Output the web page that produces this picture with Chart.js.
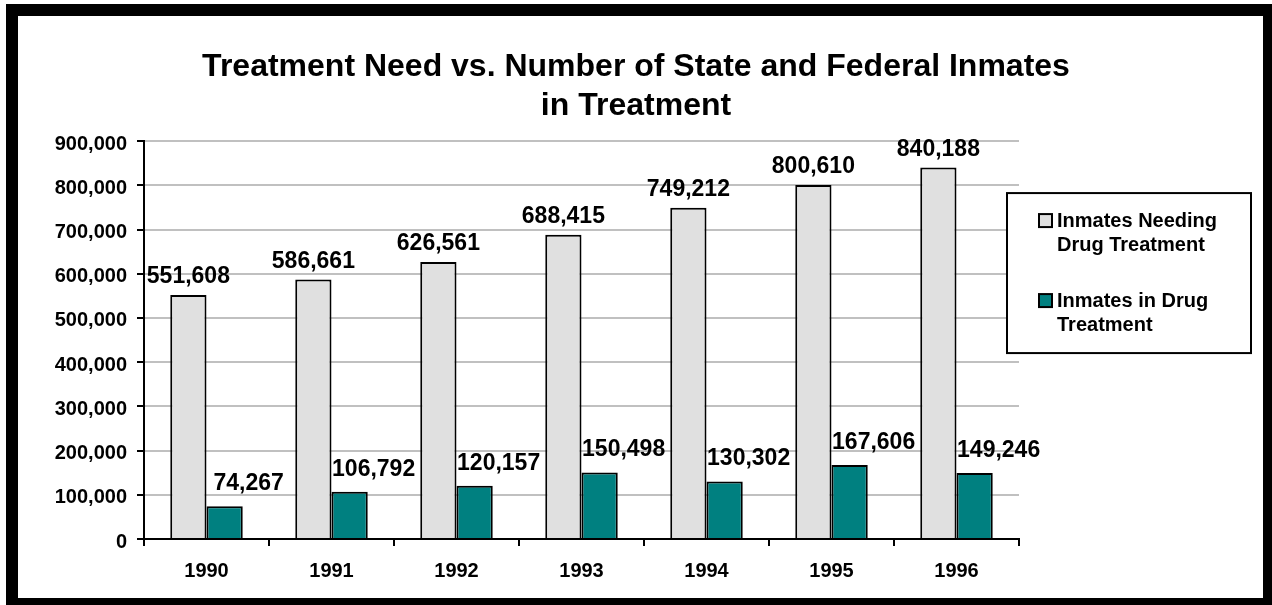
<!DOCTYPE html>
<html>
<head>
<meta charset="utf-8">
<script src="https://cdn.jsdelivr.net/npm/chart.js@4.4.1/dist/chart.umd.min.js"></script>
<style>
  html, body { margin: 0; padding: 0; background: #fff; width: 1272px; height: 605px; overflow: hidden; }
  #frame { position: absolute; left: 6px; top: 4px; width: 1269px; height: 606px; box-sizing: border-box; border: 12px solid #000; }
  #wrap { position: absolute; left: 0; top: 0; width: 1272px; height: 605px; }
</style>
</head>
<body>
<div id="frame"></div>
<div id="wrap"><canvas id="c" width="1272" height="605"></canvas></div>
<script>
// ---- data ----
const years = ['1990', '1991', '1992', '1993', '1994', '1995', '1996'];
const needingTreatment = [551608, 586661, 626561, 688415, 749212, 800610, 840188];
const inTreatment = [74267, 106792, 120157, 150498, 130302, 167606, 149246];
const seriesNames = ['Inmates Needing Drug Treatment', 'Inmates in Drug Treatment'];
const legendLines = [['Inmates Needing', 'Drug Treatment'], ['Inmates in Drug', 'Treatment']];
const titleLines = ['Treatment Need vs. Number of State and Federal Inmates', 'in Treatment'];
const yMin = 0, yMax = 900000, yStep = 100000;

const FONT = "'Liberation Sans', Arial, Helvetica, sans-serif";
const fmt = v => v.toLocaleString('en-US');

const labelOffsets = [{ dx: 0, gap: 12 }, { dx: 24, gap: 16 }];

const valueLabels = {
  id: 'valueLabels',
  afterDatasetsDraw(chart) {
    const ctx = chart.ctx;
    ctx.save();
    ctx.font = 'bold 23px ' + FONT;
    ctx.fillStyle = '#000';
    ctx.textAlign = 'center';
    ctx.textBaseline = 'alphabetic';
    chart.data.datasets.forEach((ds, i) => {
      const meta = chart.getDatasetMeta(i);
      const off = labelOffsets[i];
      meta.data.forEach((bar, j) => {
        ctx.fillText(fmt(ds.data[j]), bar.x + off.dx, bar.y - off.gap);
      });
    });
    ctx.restore();
  }
};

const boxLegend = {
  id: 'boxLegend',
  afterDraw(chart) {
    const ctx = chart.ctx;
    const ca = chart.chartArea;
    const left = ca.right - 12, top = ca.top + 52, w = 244, h = 160;
    ctx.save();
    ctx.fillStyle = '#fff';
    ctx.fillRect(left, top, w, h);
    ctx.lineWidth = 2;
    ctx.strokeStyle = '#000';
    ctx.strokeRect(left, top, w, h);
    ctx.font = 'bold 20px ' + FONT;
    ctx.textAlign = 'left';
    ctx.textBaseline = 'alphabetic';
    chart.data.datasets.forEach((ds, i) => {
      const baseY = top + 34 + i * 80;
      ctx.fillStyle = ds.backgroundColor;
      ctx.fillRect(left + 32, baseY - 13, 13, 13);
      ctx.lineWidth = 2;
      ctx.strokeStyle = '#000';
      ctx.strokeRect(left + 32, baseY - 13, 13, 13);
      ctx.fillStyle = '#000';
      legendLines[i].forEach((line, k) => {
        ctx.fillText(line, left + 50, baseY + k * 24);
      });
    });
    ctx.restore();
  }
};

new Chart(document.getElementById('c'), {
  type: 'bar',
  data: {
    labels: years,
    datasets: [
      { label: seriesNames[0], data: needingTreatment, backgroundColor: '#e0e0e0', borderColor: '#000', borderWidth: 2 },
      { label: seriesNames[1], data: inTreatment, backgroundColor: '#008080', borderColor: '#000', borderWidth: 2 }
    ]
  },
  options: {
    responsive: false,
    animation: false,
    layout: { padding: { left: 0, right: 0, top: 0, bottom: 0 } },
    datasets: { bar: { categoryPercentage: 0.58, barPercentage: 1.0 } },
    plugins: {
      legend: { display: false },
      tooltip: { enabled: false },
      title: {
        display: true,
        text: titleLines,
        color: '#000',
        font: { family: FONT, size: 32, weight: 'bold', lineHeight: 1.22 },
        padding: { top: 48, bottom: 15 }
      }
    },
    scales: {
      x: {
        offset: true,
        grid: { display: true, offset: true, drawOnChartArea: false, drawTicks: true, tickLength: 7, tickColor: '#000', tickWidth: 2, lineWidth: 2 },
        border: { display: true, color: '#000', width: 2 },
        ticks: { color: '#000', font: { family: FONT, size: 20, weight: 'bold' }, padding: 13, maxRotation: 0, autoSkip: false },
        afterFit(scale) { scale.height = 66; }
      },
      y: {
        min: yMin, max: yMax,
        grid: { color: '#c0c0c0', lineWidth: 2, tickLength: 7, tickColor: '#000', tickWidth: 2 },
        border: { display: true, color: '#000', width: 2 },
        ticks: { stepSize: yStep, color: '#000', font: { family: FONT, size: 20, weight: 'bold' }, padding: 10, labelOffset: 3, callback: v => fmt(v) },
        afterFit(scale) { scale.width = 144; }
      },
      legendSpace: {
        position: 'right',
        min: yMin, max: yMax,
        display: true,
        grid: { display: false, drawOnChartArea: false, drawTicks: false },
        border: { display: false },
        ticks: { display: false },
        afterFit(scale) { scale.width = 253; }
      }
    }
  },
  plugins: [valueLabels, boxLegend]
});
</script>
</body>
</html>
